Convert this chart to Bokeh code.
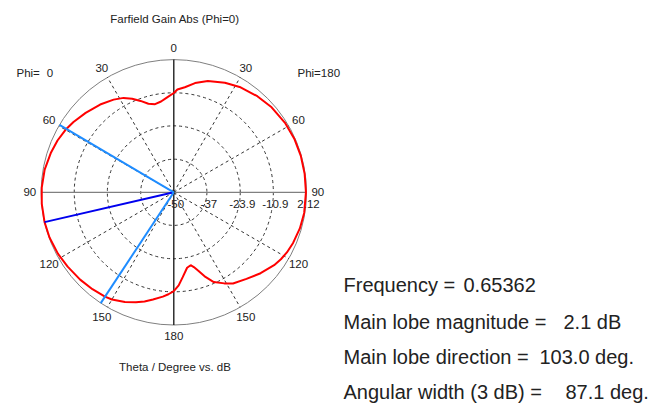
import numpy as np
from bokeh.plotting import figure
from bokeh.models import Range1d
from bokeh.embed import file_html
from bokeh.resources import INLINE
from bokeh.core.properties import value

# ---------------- data ----------------
title_text = "Farfield Gain Abs (Phi=0)"
axis_text = "Theta / Degree vs. dB"
phi_labels = ["Phi=", "0", "Phi=180"]
ring_ticks = [-50, -37, -23.9, -10.9, 2.12]
ring_labels = ["-50", "-37", "-23.9", "-10.9", "2.12"]
angle_ticks = [0, 30, 60, 90, 120, 150, 180]

# Phi = 0 half (drawn on the left), theta in degrees, gain in dB
theta_phi0 = [0, 4, 8, 12, 16, 20, 24, 28, 33, 40, 48, 55, 60, 66, 72, 80, 88,
              95, 103, 110, 118, 125, 133, 140, 146.6, 150, 156, 161, 165, 169,
              174, 177, 180]
gain_phi0 = [-11.0, -12.6, -14.0, -14.6, -13.8, -11.8, -9.8, -8.0, -6.6, -5.0,
             -3.4, -1.9, -0.9, 0.0, 0.7, 1.5, 1.9, 2.05, 2.1, 1.95, 1.5, 0.9,
             0.3, -0.3, -0.9, -1.4, -2.8, -4.3, -5.6, -7.1, -8.8, -9.9, -11.2]

# Phi = 180 half (drawn on the right)
theta_phi180 = [0, 2, 6, 11, 17, 25, 32, 41, 49, 58, 66, 74, 82, 90, 99, 106,
                113, 118, 122, 126, 133, 140, 147, 151, 156, 159.5, 162.5, 165,
                167, 170, 174, 177, 180]
gain_phi180 = [-11.0, -9.6, -8.5, -6.3, -4.3, -2.5, -1.2, 0.0, 0.9, 1.5, 1.8,
               1.9, 1.9, 1.9, 1.85, 1.5, 0.9, 0.3, -0.4, -1.3, -3.4, -5.6, -7.3,
               -9.1, -11.4, -14.5, -17.6, -19.6, -20.6, -19.9, -16.5, -13.4,
               -11.2]

frequency = 0.65362
main_lobe_mag = 2.1
main_lobe_dir = 103.0
beam_edges = [59.5, 146.6]
angular_width = 87.1

info_names = ["Frequency =", "Main lobe magnitude =", "Main lobe direction =",
              "Angular width (3 dB) ="]
info_values = ["%.5f" % frequency, "%.1f dB" % main_lobe_mag,
               "%.1f deg." % main_lobe_dir, "%.1f deg." % angular_width]

# ---------------- layout ----------------
W, H = 666, 403
PX = 132.7             # pixels per unit radius
CX, CY = 173.3, 191.8  # polar centre inside the canvas (px)

rmin, rmax = ring_ticks[0], ring_ticks[-1]


def rad(db):
    return (np.asarray(db, dtype=float) - rmin) / (rmax - rmin)


def px(x, y):
    # canvas pixel -> data units
    return (x - CX) / PX, (CY - y) / PX


p = figure(width=W, height=H, output_backend="svg", toolbar_location=None,
           x_range=Range1d(-CX / PX, (W - CX) / PX),
           y_range=Range1d(-(H - CY) / PX, CY / PX),
           min_border=0, x_axis_type=None, y_axis_type=None,
           outline_line_color=None)
p.grid.visible = False
p.background_fill_color = "white"
p.border_fill_color = "white"

FONT = value("Liberation Sans")
TXT = "#222222"

# rings
for rv in ring_ticks[1:-1]:
    p.circle(x=0, y=0, radius=float(rad(rv)), fill_color=None,
             line_color="#333333", line_dash="3 3", line_width=1)
p.circle(x=0, y=0, radius=1.0, fill_color=None, line_color="#7f7f7f",
         line_width=1)

# radial dashed spokes
xs, ys = [], []
for a in [30, 60, 120, 150]:
    t = np.radians(a)
    for s in (-1, 1):
        xs.append([0, s * np.sin(t)])
        ys.append([0, np.cos(t)])
p.multi_line(xs, ys, line_color="#333333", line_dash="3 3", line_width=1)
p.line([-1, 1], [0, 0], line_color="#808080", line_width=1.3)
p.line([0, 0], [-1, 1], line_color="#111111", line_width=1.3)

# angle labels
lx, ly, lt = [], [], []
for a in angle_ticks:
    t = np.radians(a)
    sides = (1,) if a in (0, 180) else (-1, 1)
    for s in sides:
        lx.append(s * 1.085 * np.sin(t))
        ly.append(1.085 * np.cos(t))
        lt.append(str(a))
p.text(lx, ly, text=lt, text_align="center", text_baseline="middle",
       text_font=FONT, text_font_size="11.5px", text_color=TXT)

# ring labels
p.text([float(rad(v)) + 2 / PX for v in ring_ticks], [-12 / PX] * len(ring_ticks),
       text=ring_labels, text_align="center", text_baseline="middle",
       text_font=FONT, text_font_size="11.5px", text_color=TXT)

# pattern
t0 = np.radians(theta_phi0)
r0 = rad(gain_phi0)
t1 = np.radians(theta_phi180)
r1 = rad(gain_phi180)
x_curve = np.concatenate([(-r0 * np.sin(t0))[::-1], r1 * np.sin(t1)])
y_curve = np.concatenate([(r0 * np.cos(t0))[::-1], r1 * np.cos(t1)])
p.line(x_curve, y_curve, line_color="#ff0000", line_width=2)

# main lobe and 3 dB lines (Phi=0 side)
tm = np.radians(main_lobe_dir)
rm = float(rad(main_lobe_mag))
p.line([0, -rm * np.sin(tm)], [0, rm * np.cos(tm)], line_color="#0000ee",
       line_width=2)
for b in beam_edges:
    tb = np.radians(b)
    p.line([0, -np.sin(tb)], [0, np.cos(tb)], line_color="#1e8cff",
           line_width=2)

# texts
tx, ty = px(174.5, 18)
p.text([tx], [ty], text=[title_text], text_align="center", text_baseline="middle",
       text_font=FONT, text_font_size="11.5px", text_color=TXT)
tx, ty = px(174.5, 366.5)
p.text([tx], [ty], text=[axis_text], text_align="center", text_baseline="middle",
       text_font=FONT, text_font_size="11.5px", text_color=TXT)
ax, ay = px(16, 72)
bx, by = px(49.5, 72)
cx2, cy2 = px(297, 72)
p.text([ax], [ay], text=[phi_labels[0]], text_align="left", text_baseline="middle",
       text_font=FONT, text_font_size="11.5px", text_color=TXT)
p.text([bx], [by], text=[phi_labels[1]], text_align="center", text_baseline="middle",
       text_font=FONT, text_font_size="11.5px", text_color=TXT)
p.text([cx2], [cy2], text=[phi_labels[2]], text_align="left", text_baseline="middle",
       text_font=FONT, text_font_size="11.5px", text_color=TXT)

row_y = [284, 321, 356, 391]
value_x = [463, 563, 539, 565]
nx, ny, vx, vy = [], [], [], []
for yy, xv in zip(row_y, value_x):
    a, b = px(343, yy)
    nx.append(a)
    ny.append(b)
    a, b = px(xv, yy)
    vx.append(a)
    vy.append(b)
p.text(nx, ny, text=info_names, text_align="left", text_baseline="middle",
       text_font=FONT, text_font_size="20px", text_color=TXT)
p.text(vx, vy, text=info_values, text_align="left", text_baseline="middle",
       text_font=FONT, text_font_size="20px", text_color=TXT)

open("out.html", "w").write(file_html(p, INLINE))
